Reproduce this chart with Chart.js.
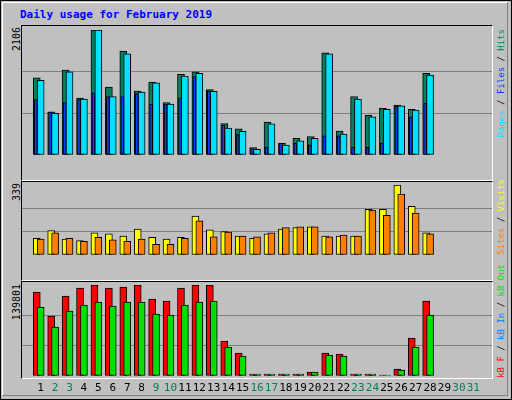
<!DOCTYPE html>
<html>
<head>
<meta charset="utf-8">
<script src="https://cdn.jsdelivr.net/npm/chart.js@4"></script>
<style>
  body { margin: 0; background: #fff; }
  #wrap { position: relative; width: 510px; height: 398px; background: #c0c0c0;
    border: 1px solid #000; font-family: "DejaVu Sans Mono", monospace; overflow: hidden; }
  #inner { position: absolute; left: 1px; top: 1px; right: 3px; bottom: 3px;
    border-top: 1px solid #fff; border-left: 1px solid #fff; border-right: 1px solid #808080; border-bottom: 1px solid #808080; }
  .panel { position: absolute; left: 20px; width: 470px; border-top: 1px solid #000; border-left: 1px solid #000;
    border-right: 1px solid #fff; border-bottom: 1px solid #fff; }
  canvas { position: absolute; }
  .vt { position: absolute; writing-mode: vertical-rl; transform: rotate(180deg); white-space: nowrap; font-size: 9px; }
  .ymax { font-size: 10px; }
  #title { position: absolute; left: 19px; top: 7px; color: #0000ff; font-weight: bold; font-size: 11px; }
</style>
</head>
<body>
<div id="wrap">
  <div id="inner"></div>
  <div id="title">Daily usage for February 2019</div>
  <div class="panel" style="top:24px;height:154px"></div>
  <div class="panel" style="top:180px;height:98px"></div>
  <div class="panel" style="top:280px;height:96px"></div>
  <div class="vt ymax" style="left:10px;top:26px">2106</div>
  <div class="vt ymax" style="left:10px;top:182px">339</div>
  <div class="vt ymax" style="left:10px;top:283px">139801</div>
  <div class="vt" style="left:495px;top:28px"><span style="color:#00e0ff">Pages</span> / <span style="color:#0040ff">Files</span> / <span style="color:#00805c">Hits</span></div>
  <div class="vt" style="left:495px;top:178px"><span style="color:#ff8000">Sites</span> / <span style="color:#ffff00">Visits</span></div>
  <div class="vt" style="left:495px;top:263px"><span style="color:#ff0000">kB F</span> / <span style="color:#0080ff">kB In</span> / <span style="color:#00e000">kB Out</span></div>
  <canvas id="c1" style="left:21px;top:29px;width:470px;height:147px"></canvas>
  <canvas id="c2" style="left:21px;top:184px;width:470px;height:92px"></canvas>
  <canvas id="c3" style="left:21px;top:284px;width:470px;height:113px"></canvas>
</div>
<script>
const days = Array.from({ length: 31 }, (_, i) => i + 1);
const weekend = [2, 3, 9, 10, 16, 17, 23, 24, 30, 31];

const hits = [1302, 727, 1431, 957, 2106, 1144, 1752, 1077, 1230, 885, 1359, 1402, 1101, 531,
  440, 124, 555, 196, 282, 311, 1723, 402, 986, 670, 785, 842, 771, 1374];
const pages = [1259, 704, 1402, 943, 2106, 986, 1704, 1058, 1216, 857, 1331, 1374, 1072, 455,
  397, 96, 526, 168, 239, 282, 1704, 354, 943, 641, 771, 828, 756, 1345];
const files = [933, 718, 885, 933, 1048, 986, 986, 1034, 857, 857, 957, 1321, 1072, 498,
  345, 105, 129, 196, 196, 172, 325, 325, 129, 129, 196, 818, 641, 871];

const visits = [81, 118, 77, 70, 107, 103, 92, 125, 85, 77, 85, 188, 122, 114,
  92, 81, 103, 125, 133, 136, 92, 92, 92, 221, 221, 339, 236, 107];
const sites = [77, 107, 81, 66, 85, 74, 66, 77, 52, 52, 81, 166, 88, 111,
  92, 88, 107, 133, 136, 136, 88, 96, 92, 217, 192, 295, 203, 103];

const kbF = [129049, 92178, 122904, 135194, 139801, 135194, 136731, 139801, 118295, 115222, 135194, 139801, 139801, 53770,
  35335, 3073, 3073, 3073, 3073, 6145, 35335, 33799, 3073, 3073, 1536, 10754, 58379, 115222];
const kbIn = [0, 0, 0, 0, 0, 0, 0, 0, 0, 0, 0, 0, 0, 0,
  0, 0, 0, 0, 0, 0, 0, 0, 0, 0, 0, 0, 0, 0];
const kbOut = [106004, 75279, 99860, 109077, 113686, 107541, 113686, 113686, 95251, 93714, 109077, 113686, 115222, 44553,
  30726, 3073, 3073, 3073, 3073, 6145, 32262, 30726, 3073, 3073, 1536, 9218, 44553, 93714];

const unit = 14.903;

function series(values, shift, color, width, order) {
  return {
    data: values.map((v, i) => ({ x: days[i] + shift, y: v })),
    backgroundColor: color,
    borderColor: "#000",
    borderWidth: 1,
    borderSkipped: false,
    barThickness: width,
    grouped: false,
    order: order,
  };
}

function makeChart(id, max, datasets, showDays) {
  new Chart(document.getElementById(id), {
    type: "bar",
    data: { datasets: datasets },
    options: {
      responsive: false,
      animation: false,
      events: [],
      layout: { padding: 0 },
      plugins: { legend: { display: false }, tooltip: { enabled: false } },
      scales: {
        x: {
          type: "linear",
          min: 0.5 - 4 / unit,
          max: 31.5 + 4 / unit,
          display: showDays,
          grid: { display: false, drawTicks: false },
          border: { display: false },
          afterBuildTicks: (s) => { s.ticks = days.map((d) => ({ value: d })); },
          afterFit: (s) => { s.height = 22; },
          ticks: {
            padding: 6,
            autoSkip: false,
            maxRotation: 0,
            font: { family: "DejaVu Sans Mono", size: 11 },
            color: (c) => (weekend.includes(c.tick.value) ? "#00805c" : "#000"),
          },
        },
        y: {
          min: 0,
          max: max,
          display: true,
          afterBuildTicks: (s) => { s.ticks = [0, max / 3, (2 * max) / 3, max].map((v) => ({ value: v })); },
          ticks: { display: false },
          border: { display: false },
          grid: {
            drawTicks: false,
            color: (c) => (c.tick.value > 0 && c.tick.value < max ? "#808080" : "rgba(0,0,0,0)"),
          },
        },
      },
    },
  });
}

makeChart("c1", 2106, [
  series(hits, -0.27, "#00805c", 7, 2),
  series(pages, 0, "#00e0ff", 7, 1),
  series(files, -0.34, "#0040ff", 3, 0),
], false);

makeChart("c2", 339, [
  series(visits, -0.27, "#ffff00", 7, 1),
  series(sites, 0, "#ff8000", 7, 0),
], false);

makeChart("c3", 139801, [
  series(kbF, -0.27, "#ff0000", 7, 2),
  series(kbOut, 0, "#00e000", 7, 1),
  series(kbIn, -0.34, "#0080ff", 3, 0),
], true);
</script>
</body>
</html>
